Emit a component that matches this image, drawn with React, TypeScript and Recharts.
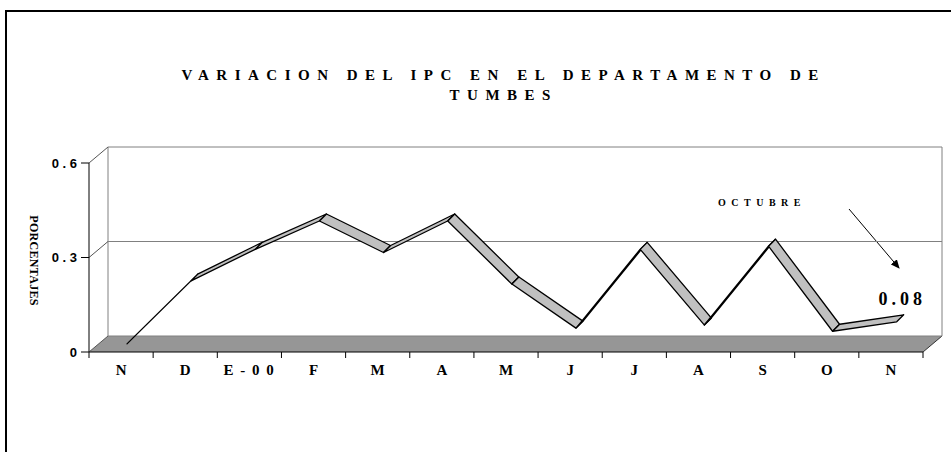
import React from 'react';
import { ComposedChart, Bar, XAxis, YAxis, ReferenceArea, ReferenceLine, Label } from 'recharts';

// Variación mensual del IPC - Tumbes
const meses = ['N', 'D', 'E - 00', 'F', 'M', 'A', 'M', 'J', 'J', 'A', 'S', 'O', 'N'];
const variacion = [0.01, 0.21, 0.31, 0.4, 0.3, 0.4, 0.2, 0.06, 0.31, 0.07, 0.32, 0.05, 0.08];
const ticksY = [0, 0.3, 0.6];

// each row carries the segment to the next month (range bar -> ribbon piece)
const datos = meses.map((mes, i) => ({
  idx: i,
  mes,
  valor: variacion[i],
  tramo: i < variacion.length - 1 ? [variacion[i], variacion[i + 1]] : null,
}));

const SERIF = '"Liberation Serif", "Times New Roman", serif';
const SANS = '"Liberation Sans", Arial, sans-serif';

// 3D depth of the walls and the ribbon
const PROF_X = 19, PROF_Y = -16;
const CINTA_X = 6, CINTA_Y = -5;
const GROSOR_X = 7, GROSOR_Y = -7;

const Paredes = (props: any) => {
  const { x, y, width, height } = props;
  const base = y + height;
  const n = meses.length;
  const paso = width / n;
  return (
    <g>
      <polygon
        points={`${x},${base} ${x + width},${base} ${x + width + PROF_X},${base + PROF_Y} ${x + PROF_X},${base + PROF_Y}`}
        fill="#969696"
      />
      <line x1={x + PROF_X} y1={y + PROF_Y} x2={x + PROF_X} y2={base + PROF_Y} stroke="#808080" />
      <line x1={x + width + PROF_X} y1={y + PROF_Y} x2={x + width + PROF_X} y2={base + PROF_Y} stroke="#808080" />
      <line x1={x + width} y1={base} x2={x + width + PROF_X} y2={base + PROF_Y} stroke="#333" />
      <line x1={x} y1={base} x2={x + width} y2={base} stroke="#000" />
      {Array.from({ length: n + 1 }, (_, i) => (
        <line key={i} x1={x + i * paso} y1={base} x2={x + i * paso} y2={base + 6} stroke="#000" />
      ))}
      {/* annotation */}
      <text
        x={x + width - 161}
        y={y + 39}
        textAnchor="middle"
        dy="0.35em"
        fontFamily={SERIF}
        fontWeight="bold"
        fontSize={10}
        letterSpacing={5.5}
      >
        OCTUBRE
      </text>
      <defs>
        <marker id="flecha" markerWidth="9" markerHeight="8" refX="8" refY="4" orient="auto" markerUnits="userSpaceOnUse">
          <path d="M0,0 L9,4 L0,8 z" fill="#000" />
        </marker>
      </defs>
      <line
        x1={x + width - 74}
        y1={y + 46}
        x2={x + width - 24}
        y2={y + 105}
        stroke="#000"
        strokeWidth={1}
        markerEnd="url(#flecha)"
      />
    </g>
  );
};

const Rejilla = (props: any) => {
  const { x1, y1, x2 } = props;
  return (
    <g>
      <line x1={x1} y1={y1} x2={x1 + PROF_X} y2={y1 + PROF_Y} stroke="#555" />
      <line x1={x1 + PROF_X} y1={y1 + PROF_Y} x2={x2 + PROF_X} y2={y1 + PROF_Y} stroke="#808080" />
    </g>
  );
};

const Cinta = (props: any) => {
  const { x, y, width, height, payload } = props;
  if (!payload || !payload.tramo) return <g />;
  const [a, b] = payload.tramo;
  const arriba = Math.min(y, y + height);
  const abajo = Math.max(y, y + height);
  const ya = (a >= b ? arriba : abajo) + CINTA_Y;
  const yb = (a >= b ? abajo : arriba) + CINTA_Y;
  const xa = x + width / 2 + CINTA_X;
  const xb = x + width * 1.5 + CINTA_X;
  const ultimo = payload.idx === meses.length - 2;
  return (
    <g>
      <polygon
        points={`${xa},${ya} ${xb},${yb} ${xb + GROSOR_X},${yb + GROSOR_Y} ${xa + GROSOR_X},${ya + GROSOR_Y}`}
        fill="#c0c0c0"
        stroke="#000"
        strokeWidth={1.3}
        strokeLinejoin="round"
      />
      {ultimo && (
        <text
          x={xb + GROSOR_X / 2 + 2}
          y={yb + GROSOR_Y - 16}
          textAnchor="middle"
          dy="0.35em"
          fontFamily={SERIF}
          fontWeight="bold"
          fontSize={18}
          letterSpacing={4}
        >
          {b.toFixed(2)}
        </text>
      )}
    </g>
  );
};

const TickX = (props: any) => {
  const { x, y, payload } = props;
  return (
    <text
      x={x}
      y={y + 10}
      dy="0.35em"
      textAnchor="middle"
      fontFamily={SERIF}
      fontWeight="bold"
      fontSize={15}
      letterSpacing={meses[payload.value].length > 1 ? 1.5 : 0}
    >
      {meses[payload.value].replace('00', '0 0')}
    </text>
  );
};

const TickY = (props: any) => {
  const { x, y, payload } = props;
  const v = payload.value;
  const texto = v === 0 ? '0' : v.toFixed(1).split('').join(' ');
  return (
    <text x={x} y={y} dy="0.35em" textAnchor="end" fontFamily={SANS} fontWeight="bold" fontSize={13}>
      {texto}
    </text>
  );
};

const EtiquetaY = (props: any) => {
  const { viewBox } = props;
  const cx = viewBox.x + 4;
  const cy = viewBox.y + viewBox.height / 2 + 3;
  return (
    <text
      x={cx}
      y={cy}
      textAnchor="middle"
      dy="0.35em"
      transform={`rotate(90, ${cx}, ${cy})`}
      fontFamily={SERIF}
      fontWeight="bold"
      fontSize={12}
      letterSpacing={0.3}
    >
      PORCENTAJES
    </text>
  );
};

export default function App() {
  return (
    <div style={{ position: 'absolute', left: 0, top: 0, width: 951, height: 452, background: '#fff', overflow: 'hidden' }}>
      <div
        style={{
          position: 'absolute',
          left: 5,
          top: 10,
          width: 960,
          height: 460,
          borderTop: '2px solid #000',
          borderLeft: '2px solid #000',
        }}
      />
      <div
        style={{
          position: 'absolute',
          left: 100,
          top: 65,
          width: 800,
          textAlign: 'center',
          fontFamily: SERIF,
          fontWeight: 'bold',
          fontSize: 15,
          lineHeight: '20px',
          letterSpacing: 7.5,
          paddingLeft: 7.5,
          boxSizing: 'border-box',
          whiteSpace: 'pre',
        }}
      >
        <div>VARIACION DEL IPC EN EL DEPARTAMENTO DE</div>
        <div>TUMBES</div>
      </div>
      <ComposedChart
        width={951}
        height={452}
        data={datos}
        margin={{ top: 163, right: 28, bottom: 70, left: 30 }}
        barCategoryGap={0}
        barGap={0}
        style={{ position: 'absolute', left: 0, top: 0 }}
      >
        <XAxis dataKey="idx" type="category" axisLine={false} tickLine={false} height={30} tick={<TickX />} interval={0} />
        <YAxis
          type="number"
          domain={[0, 0.6]}
          ticks={ticksY}
          width={59}
          axisLine={{ stroke: '#000' }}
          tickLine={{ stroke: '#000' }}
          tickSize={8}
          tickMargin={4}
          tick={<TickY />}
        >
          <Label content={<EtiquetaY />} />
        </YAxis>
        <ReferenceArea y1={0} y2={0.6} shape={(p: any) => <Paredes {...p} />} fill="none" stroke="none" zIndex={-10} />
        {ticksY.map((t) => (
          <ReferenceLine key={t} y={t} shape={(p: any) => <Rejilla {...p} />} zIndex={-5} />
        ))}
        <Bar dataKey="tramo" shape={(p: any) => <Cinta {...p} />} isAnimationActive={false} />
      </ComposedChart>
    </div>
  );
}
